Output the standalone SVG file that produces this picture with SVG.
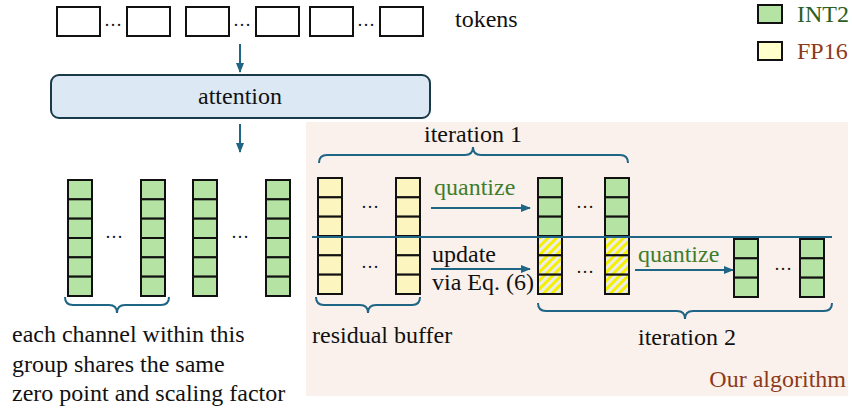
<svg xmlns="http://www.w3.org/2000/svg" width="852" height="411" viewBox="0 0 852 411">
<defs>
<style>
text{font-family:"Liberation Serif","Times New Roman",serif;font-size:24px;fill:#111}
.tok{fill:#fff;stroke:#111;stroke-width:2}
.g{fill:#b5e3a3;stroke:#111;stroke-width:2}
.y{fill:#fdf5c0;stroke:#111;stroke-width:2}
.h{fill:url(#hatch);stroke:#111;stroke-width:2}
.ln{stroke:#1f6585;stroke-width:2;fill:none}
.dots{font-size:18px;text-anchor:middle}
.grn{fill:#3e7d2e}
</style>
<pattern id="hatch" width="6" height="6" patternUnits="userSpaceOnUse" patternTransform="rotate(45)">
<rect width="6" height="6" fill="#ececec"/>
<rect width="3" height="6" fill="#f5f000"/>
</pattern>
<marker id="ah" markerWidth="10" markerHeight="8" refX="9" refY="4" orient="auto" markerUnits="userSpaceOnUse">
<path d="M0,0 L10,4 L0,8 Z" fill="#1f6585"/>
</marker>
<g id="col6">
<rect class="g" x="0" y="0" width="24" height="19.33"/>
<rect class="g" x="0" y="19.33" width="24" height="19.33"/>
<rect class="g" x="0" y="38.67" width="24" height="19.33"/>
<rect class="g" x="0" y="58" width="24" height="19.33"/>
<rect class="g" x="0" y="77.33" width="24" height="19.33"/>
<rect class="g" x="0" y="96.67" width="24" height="19.33"/>
</g>
<g id="coly">
<rect class="y" x="0" y="0" width="24" height="19.33"/>
<rect class="y" x="0" y="19.33" width="24" height="19.33"/>
<rect class="y" x="0" y="38.67" width="24" height="19.33"/>
<rect class="y" x="0" y="58" width="24" height="19.33"/>
<rect class="y" x="0" y="77.33" width="24" height="19.33"/>
<rect class="y" x="0" y="96.67" width="24" height="19.33"/>
</g>
<g id="colgh">
<rect class="g" x="0" y="0" width="24" height="19.33"/>
<rect class="g" x="0" y="19.33" width="24" height="19.33"/>
<rect class="g" x="0" y="38.67" width="24" height="19.33"/>
<rect class="h" x="0" y="58" width="24" height="19.33"/>
<rect class="h" x="0" y="77.33" width="24" height="19.33"/>
<rect class="h" x="0" y="96.67" width="24" height="19.33"/>
</g>
<g id="col3">
<rect class="g" x="0" y="0" width="24" height="19.33"/>
<rect class="g" x="0" y="19.33" width="24" height="19.33"/>
<rect class="g" x="0" y="38.67" width="24" height="19.33"/>
</g>
</defs>
<rect width="852" height="411" fill="#fff"/>
<g id="algo-bg">
<rect x="306" y="122" width="542" height="274" fill="#fbf1ec"/>
<text x="846" y="387" text-anchor="end" style="fill:#8b3a1a">Our algorithm</text>
</g>
<g id="legend">
<rect x="758" y="5" width="24" height="18" class="g"/>
<text x="797" y="22" style="fill:#2d5e22">INT2</text>
<rect x="758" y="42" width="24" height="18" stroke="#111" stroke-width="2" fill="#ffffcc"/>
<text x="797" y="59" style="fill:#8b3a1a">FP16</text>
</g>
<g id="tokens">
<rect class="tok" x="57" y="7" width="43" height="29"/>
<text class="dots" x="113" y="26">…</text>
<rect class="tok" x="127" y="7" width="43" height="29"/>
<rect class="tok" x="186" y="7" width="43" height="29"/>
<text class="dots" x="242" y="26">…</text>
<rect class="tok" x="256" y="7" width="43" height="29"/>
<rect class="tok" x="310" y="7" width="43" height="29"/>
<text class="dots" x="366" y="26">…</text>
<rect class="tok" x="380" y="7" width="43" height="29"/>
<text x="455" y="27">tokens</text>
</g>
<g id="attention">
<rect x="51" y="75" width="379" height="43" rx="8" fill="#dce9f5" stroke="#1a3a4a" stroke-width="2"/>
<text x="240" y="104" text-anchor="middle">attention</text>
</g>
<g id="channels">
<use href="#col6" x="68" y="180"/>
<text class="dots" x="114" y="238">…</text>
<use href="#col6" x="141" y="180"/>
<use href="#col6" x="193" y="180"/>
<text class="dots" x="240" y="238">…</text>
<use href="#col6" x="266" y="180"/>
<text x="12" y="342">each channel within this</text>
<text x="12" y="372">group shares the same</text>
<text x="12" y="401">zero point and scaling factor</text>
</g>
<g id="residual">
<use href="#coly" x="318" y="178"/>
<text class="dots" x="370" y="208">…</text>
<text class="dots" x="370" y="268">…</text>
<use href="#coly" x="396" y="178"/>
<text x="312" y="343">residual buffer</text>
</g>
<g id="iter1">
<use href="#colgh" x="538" y="178"/>
<text class="dots" x="585" y="208">…</text>
<text class="dots" x="585" y="273">…</text>
<use href="#colgh" x="605" y="178"/>
<text x="473" y="142" text-anchor="middle">iteration 1</text>
</g>
<g id="iter2">
<use href="#col3" x="734" y="239"/>
<text class="dots" x="783" y="270">…</text>
<use href="#col3" x="800" y="239"/>
<text x="687" y="345" text-anchor="middle">iteration 2</text>
</g>
<g id="connectors">
<line class="ln" x1="240" y1="44" x2="240" y2="72" marker-end="url(#ah)"/>
<line class="ln" x1="240" y1="124" x2="240" y2="152" marker-end="url(#ah)"/>
<line class="ln" x1="312" y1="237" x2="832" y2="237"/>
<line class="ln" x1="431" y1="208" x2="530" y2="208" marker-end="url(#ah)"/>
<text x="434" y="195" class="grn">quantize</text>
<line class="ln" x1="431" y1="269" x2="530" y2="269" marker-end="url(#ah)"/>
<text x="432" y="262">update</text>
<text x="432" y="290">via Eq. (6)</text>
<line class="ln" x1="635" y1="270" x2="733" y2="270" marker-end="url(#ah)"/>
<text x="638" y="262" class="grn">quantize</text>
<path class="ln" d="M319,163 Q319,155 327,155 L465,155 Q473,155 473,147 Q473,155 481,155 L620,155 Q628,155 628,163"/>
<path class="ln" d="M65,297 Q65,305 73,305 L109,305 Q117,305 117,313 Q117,305 125,305 L161,305 Q169,305 169,297"/>
<path class="ln" d="M316,297 Q316,305 324,305 L360,305 Q368,305 368,313 Q368,305 376,305 L412,305 Q420,305 420,297"/>
<path class="ln" d="M538,303 Q538,311 546,311 L677,311 Q685,311 685,319 Q685,311 693,311 L824,311 Q832,311 832,303"/>
</g>
</svg>
